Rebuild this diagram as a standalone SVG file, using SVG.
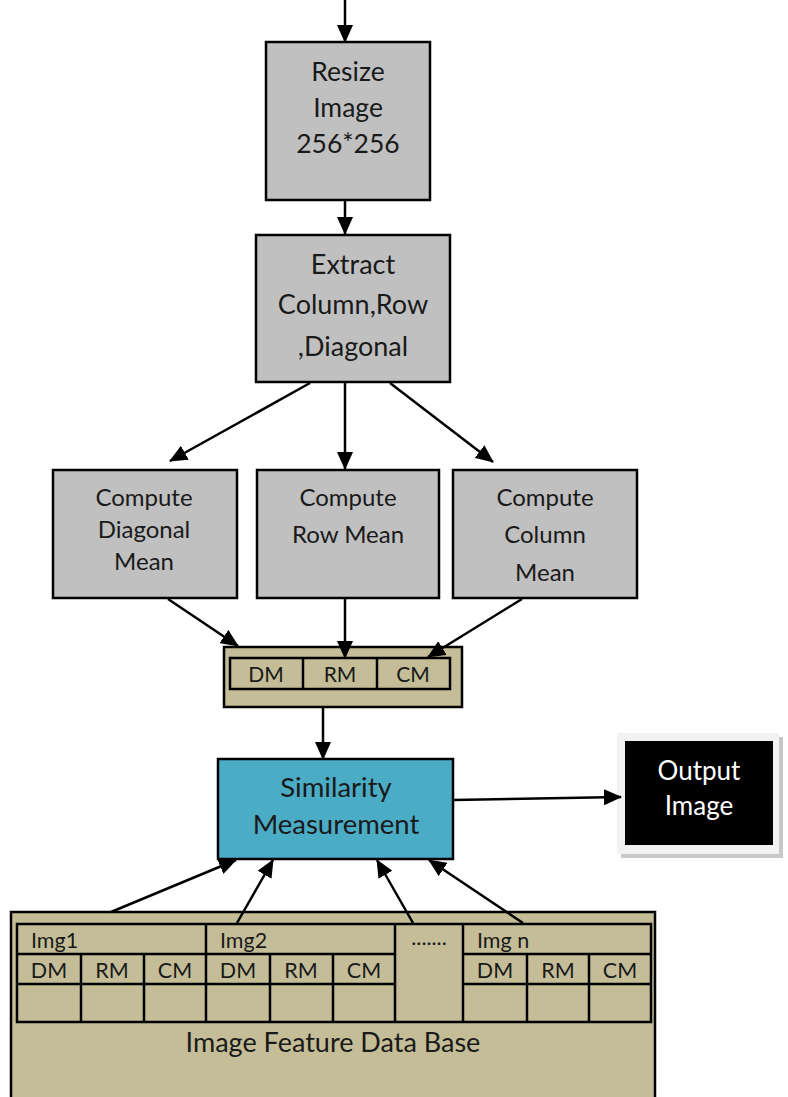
<svg xmlns="http://www.w3.org/2000/svg" width="788" height="1097" viewBox="0 0 788 1097">
<defs>
<marker id="ah" markerUnits="userSpaceOnUse" markerWidth="18" markerHeight="16" viewBox="0 0 18 16" refX="17" refY="8" orient="auto">
<path d="M0,0 L18,8 L0,16 Z" fill="#000"/>
</marker>
<style>
.gray{fill:#c0c0c0;stroke:#000;stroke-width:2.5}
.tan{fill:#c4bd97;stroke:#000;stroke-width:2.5}
.cell{fill:none;stroke:#000;stroke-width:2.5}
.t{font-family:Lato,"Liberation Sans",sans-serif;fill:#1a1a1a;text-anchor:middle}
.c{stroke:#000;stroke-width:2.5;fill:none}
.a{marker-end:url(#ah)}
</style>
</defs>
<g id="resize">
<rect class="gray" x="266" y="42" width="164" height="158"/>
<text class="t" font-size="26.5" x="348" y="81">Resize</text>
<text class="t" font-size="26.5" x="348" y="117">Image</text>
<text class="t" font-size="26.5" x="348" y="153">256*256</text>
</g>
<g id="extract">
<rect class="gray" x="256" y="235" width="194" height="147"/>
<text class="t" font-size="27" x="353" y="274">Extract</text>
<text class="t" font-size="27" x="353" y="314">Column,Row</text>
<text class="t" font-size="27" x="353" y="356">,Diagonal</text>
</g>
<g id="diag">
<rect class="gray" x="53" y="470" width="184" height="128"/>
<text class="t" font-size="24" x="144" y="506">Compute</text>
<text class="t" font-size="24" x="144" y="538">Diagonal</text>
<text class="t" font-size="24" x="144" y="570">Mean</text>
</g>
<g id="row">
<rect class="gray" x="257" y="470" width="182" height="128"/>
<text class="t" font-size="24" x="348" y="506">Compute</text>
<text class="t" font-size="24" x="348" y="543">Row Mean</text>
</g>
<g id="col">
<rect class="gray" x="453" y="470" width="184" height="128"/>
<text class="t" font-size="24" x="545" y="506">Compute</text>
<text class="t" font-size="24" x="545" y="543">Column</text>
<text class="t" font-size="24" x="545" y="581">Mean</text>
</g>
<g id="vector">
<rect class="tan" x="224" y="647" width="238" height="60"/>
<rect class="cell" x="230" y="658" width="220" height="31"/>
<line class="cell" x1="303" y1="658" x2="303" y2="689"/>
<line class="cell" x1="377" y1="658" x2="377" y2="689"/>
<text class="t" font-size="21" x="266" y="682">DM</text>
<text class="t" font-size="21" x="340" y="682">RM</text>
<text class="t" font-size="21" x="413" y="682">CM</text>
</g>
<g id="similarity">
<rect x="218" y="759" width="235" height="100" fill="#4bacc6" stroke="#000" stroke-width="2.5"/>
<text class="t" font-size="27.5" x="336" y="797">Similarity</text>
<text class="t" font-size="27.5" x="336" y="834">Measurement</text>
</g>
<g id="output">
<rect x="621" y="737" width="162" height="121" fill="#c8c8c8"/>
<rect x="617" y="733" width="162" height="121" fill="#f2f2f2"/>
<rect x="625" y="741" width="148" height="104" fill="#000"/>
<text class="t" font-size="26" x="699" y="780" style="fill:#fff">Output</text>
<text class="t" font-size="26" x="699" y="815" style="fill:#fff">Image</text>
</g>
<g id="database">
<rect class="tan" x="11" y="912" width="644" height="190"/>
<rect class="cell" x="17" y="924" width="634" height="98"/>
<line class="cell" x1="17" y1="954" x2="395" y2="954"/>
<line class="cell" x1="463" y1="954" x2="651" y2="954"/>
<line class="cell" x1="17" y1="984" x2="395" y2="984"/>
<line class="cell" x1="463" y1="984" x2="651" y2="984"/>
<line class="cell" x1="206" y1="924" x2="206" y2="1022"/>
<line class="cell" x1="395" y1="924" x2="395" y2="1022"/>
<line class="cell" x1="463" y1="924" x2="463" y2="1022"/>
<line class="cell" x1="81" y1="954" x2="81" y2="1022"/>
<line class="cell" x1="144" y1="954" x2="144" y2="1022"/>
<line class="cell" x1="270" y1="954" x2="270" y2="1022"/>
<line class="cell" x1="333" y1="954" x2="333" y2="1022"/>
<line class="cell" x1="527" y1="954" x2="527" y2="1022"/>
<line class="cell" x1="589" y1="954" x2="589" y2="1022"/>
<text class="t" font-size="21.5" x="31" y="948" style="text-anchor:start">Img1</text>
<text class="t" font-size="21.5" x="220" y="948" style="text-anchor:start">Img2</text>
<text class="t" font-size="21.5" x="477" y="948" style="text-anchor:start">Img n</text>
<text class="t" font-size="21.5" x="429" y="945">.......</text>
<text class="t" font-size="21.5" x="49" y="978">DM</text>
<text class="t" font-size="21.5" x="112" y="978">RM</text>
<text class="t" font-size="21.5" x="175" y="978">CM</text>
<text class="t" font-size="21.5" x="238" y="978">DM</text>
<text class="t" font-size="21.5" x="301" y="978">RM</text>
<text class="t" font-size="21.5" x="364" y="978">CM</text>
<text class="t" font-size="21.5" x="495" y="978">DM</text>
<text class="t" font-size="21.5" x="558" y="978">RM</text>
<text class="t" font-size="21.5" x="620" y="978">CM</text>
<text class="t" font-size="27" x="333" y="1052">Image Feature Data Base</text>
</g>
<g id="connectors">
<line class="c a" x1="345" y1="0" x2="345" y2="42"/>
<line class="c a" x1="345" y1="200" x2="345" y2="234"/>
<line class="c a" x1="310" y1="383" x2="170" y2="461"/>
<line class="c a" x1="345" y1="383" x2="345" y2="469"/>
<line class="c a" x1="390" y1="383" x2="493" y2="462"/>
<line class="c a" x1="168" y1="599" x2="238" y2="646"/>
<line class="c a" x1="345" y1="599" x2="345" y2="658"/>
<line class="c a" x1="522" y1="599" x2="428" y2="657"/>
<line class="c a" x1="323" y1="708" x2="323" y2="759"/>
<line class="c a" x1="453" y1="800" x2="621" y2="797"/>
<line class="c a" x1="111" y1="912" x2="236" y2="860"/>
<line class="c a" x1="237" y1="923" x2="273" y2="860"/>
<line class="c a" x1="413" y1="923" x2="377" y2="860"/>
<line class="c a" x1="523" y1="923" x2="429" y2="860"/>
</g>
</svg>
